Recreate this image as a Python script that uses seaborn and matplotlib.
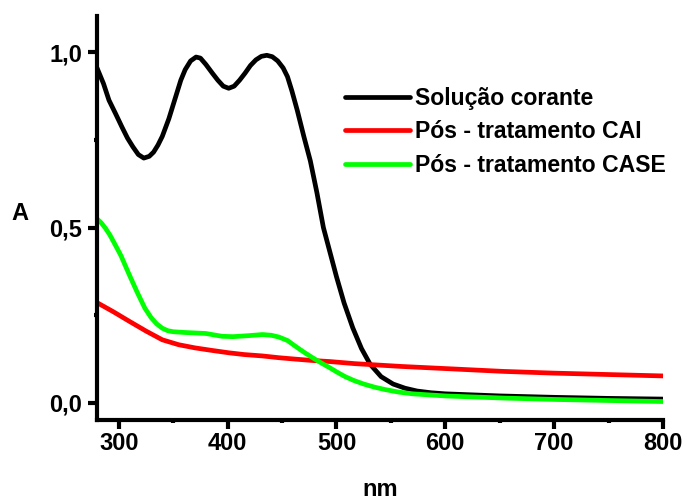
import numpy as np
import pandas as pd
import seaborn as sns
import matplotlib
matplotlib.use("Agg")
import matplotlib.pyplot as plt
from matplotlib.ticker import MultipleLocator, FuncFormatter

# Data
wl_black = [280, 286, 291, 297, 303, 308, 313, 318, 323, 328, 332, 336, 340, 346,
            352, 357, 361, 366, 371, 375, 380, 386, 391, 396, 401, 406, 411, 416,
            421, 426, 431, 436, 441, 446, 451, 455, 459, 464, 470, 476, 482, 488,
            494, 500, 507, 515, 523, 531, 541, 552, 563, 574, 587, 600, 650, 700,
            750, 800]
a_black = [0.955, 0.91, 0.863, 0.825, 0.786, 0.755, 0.73, 0.708, 0.698, 0.703,
           0.715, 0.735, 0.76, 0.81, 0.87, 0.92, 0.95, 0.975, 0.986, 0.983, 0.965,
           0.94, 0.92, 0.903, 0.897, 0.903, 0.92, 0.94, 0.962, 0.978, 0.988, 0.991,
           0.987, 0.975, 0.955, 0.93, 0.89, 0.834, 0.76, 0.69, 0.60, 0.50, 0.43,
           0.36, 0.285, 0.214, 0.155, 0.11, 0.075, 0.054, 0.042, 0.034, 0.029,
           0.026, 0.02, 0.016, 0.013, 0.011]

wl_red = [280, 295, 309, 325, 340, 355, 370, 385, 401, 415, 432, 447, 462, 478,
          494, 517, 560, 600, 653, 700, 750, 800]
a_red = [0.286, 0.26, 0.234, 0.205, 0.18, 0.166, 0.157, 0.15, 0.143, 0.138, 0.134,
         0.129, 0.125, 0.121, 0.118, 0.112, 0.104, 0.098, 0.09, 0.085, 0.081, 0.077]

wl_green = [280, 284, 288, 292, 296, 302, 309, 317, 324, 330, 335, 340, 345, 350,
            360, 380, 395, 405, 420, 432, 440, 447, 455, 463, 470, 478, 486, 494,
            501, 508, 516, 525, 535, 545, 557, 570, 600, 653, 700, 750, 800]
a_green = [0.525, 0.513, 0.497, 0.478, 0.455, 0.42, 0.37, 0.315, 0.27, 0.242, 0.225,
           0.213, 0.206, 0.203, 0.201, 0.198, 0.19, 0.189, 0.192, 0.195, 0.193,
           0.188, 0.178, 0.16, 0.145, 0.129, 0.114, 0.10, 0.087, 0.075, 0.064,
           0.054, 0.045, 0.038, 0.031, 0.026, 0.02, 0.014, 0.01, 0.007, 0.004]

labels = ["Solução corante", "Pós - tratamento CAI", "Pós - tratamento CASE"]
colors = ["#000000", "#ff0000", "#00ff00"]

df = pd.concat([
    pd.DataFrame({"nm": wl_black, "A": a_black, "série": labels[0]}),
    pd.DataFrame({"nm": wl_red, "A": a_red, "série": labels[1]}),
    pd.DataFrame({"nm": wl_green, "A": a_green, "série": labels[2]}),
])

sns.set_style("ticks")
plt.rcParams["font.family"] = ["Liberation Sans", "DejaVu Sans"]
plt.rcParams["font.weight"] = "bold"
plt.rcParams["text.color"] = "black"
plt.rcParams["axes.labelcolor"] = "black"
plt.rcParams["xtick.color"] = "black"
plt.rcParams["ytick.color"] = "black"
plt.rcParams["axes.edgecolor"] = "black"

fig = plt.figure(figsize=(6.87, 5.03), dpi=100)
ax = fig.add_axes([97/687, 1-420/503, 566/687, 404/503])

sns.lineplot(data=df, x="nm", y="A", hue="série", palette=dict(zip(labels, colors)),
             hue_order=labels, linewidth=3.4, ax=ax, sort=False, estimator=None,
             solid_capstyle="round", solid_joinstyle="round")

ax.set_xlim(280, 800)
ax.set_ylim(-0.0486, 1.103)
for s in ["top", "right"]:
    ax.spines[s].set_visible(False)
for s in ["left", "bottom"]:
    ax.spines[s].set_linewidth(3)
    ax.spines[s].set_color("black")

ax.xaxis.set_major_locator(MultipleLocator(100))
ax.xaxis.set_minor_locator(MultipleLocator(50))
ax.yaxis.set_major_locator(MultipleLocator(0.5))
ax.yaxis.set_minor_locator(MultipleLocator(0.25))
ax.yaxis.set_major_formatter(FuncFormatter(lambda v, p: f"{v:.1f}".replace(".", ",")))
ax.tick_params(which="major", direction="out", length=6.5, width=3, labelsize=17, pad=2,
               colors="black")
ax.tick_params(axis="y", which="major", pad=4)
ax.tick_params(which="minor", direction="out", length=2, width=3, colors="black")
for t in ax.get_xticklabels() + ax.get_yticklabels():
    t.set_fontweight("bold")

ax.set_xlabel("nm", fontsize=17, fontweight="bold", va="center", color="black")
ax.xaxis.set_label_coords(0.5, -0.173)
ax.set_ylabel("A", fontsize=17, fontweight="bold", rotation=0, va="center", ha="center",
              color="black")
ax.yaxis.set_label_coords(-0.136, 0.512)

handles, lbls = ax.get_legend_handles_labels()
leg = ax.legend(handles, lbls, loc="upper left", bbox_to_anchor=(345/687, 1-87/503),
                bbox_transform=fig.transFigure, frameon=False, borderpad=0,
                borderaxespad=0, handlelength=2.8, handletextpad=0.22,
                labelspacing=0.45, prop={"size": 16.6, "weight": "bold"})
for t in leg.get_texts():
    t.set_color("black")

fig.savefig("out.png", dpi=100)
